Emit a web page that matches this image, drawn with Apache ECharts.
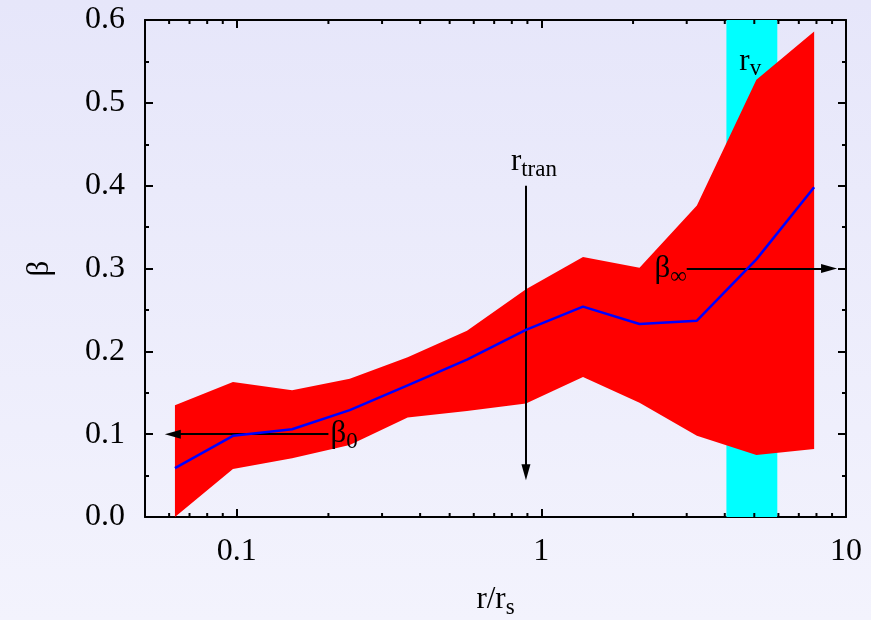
<!DOCTYPE html>
<html>
<head>
<meta charset="utf-8">
<script src="https://cdn.jsdelivr.net/npm/echarts@6/dist/echarts.min.js"></script>
<style>html,body{margin:0;padding:0;}#c{width:871px;height:620px;}</style>
</head>
<body>
<div id="c"></div>
<script>
// ---- data ----
const xVals    = [0.0627, 0.0972, 0.152, 0.235, 0.364, 0.57, 0.89, 1.37, 2.1, 3.24, 5.08, 7.86];
const betaMid  = [0.059, 0.098, 0.106, 0.129, 0.159, 0.190, 0.226, 0.254, 0.233, 0.237, 0.311, 0.398];
const betaHigh = [0.135, 0.163, 0.153, 0.167, 0.193, 0.225, 0.275, 0.314, 0.301, 0.376, 0.528, 0.586];
const betaLow  = [0.000, 0.058, 0.071, 0.087, 0.120, 0.128, 0.137, 0.169, 0.138, 0.098, 0.075, 0.082];
const virialBand = [4.05, 5.95];
const xMinorTicks = [0.06,0.07,0.08,0.09,0.2,0.3,0.4,0.5,0.6,0.7,0.8,0.9,2,3,4,5,6,7,8,9];
const xRange = [0.05, 10];
const yRange = [0, 0.6];
const rTran = 0.89;
const beta0 = 0.1;
const betaInf = 0.3;

const FONT = 'Liberation Serif';
const rich = {
  m: {fontFamily: FONT, fontSize: 31, color: '#000', lineHeight: 40},
  s: {fontFamily: FONT, fontSize: 23, color: '#000', lineHeight: 24, padding: [16, 0, 0, 0]}
};

const chart = echarts.init(document.getElementById('c'), null, {renderer: 'canvas'});

const frameLine = {show: true, onZero: false, lineStyle: {color: '#000', width: 2}};
const tickStyle = {show: true, inside: true, length: 8, lineStyle: {color: '#000', width: 2}};

function fmtX(v) {
  if (Math.abs(v - 0.1) < 1e-9) return '0.1';
  if (Math.abs(v - 1) < 1e-9) return '1';
  if (Math.abs(v - 10) < 1e-9) return '10';
  return '';
}

const option = {
  backgroundColor: {type: 'linear', x: 0, y: 0, x2: 0, y2: 1,
    colorStops: [{offset: 0, color: '#e6e6fa'}, {offset: 1, color: '#f3f3fd'}]},
  animation: false,
  grid: {left: 145, right: 25, top: 20, bottom: 103, containLabel: false, outerBoundsMode: 'none'},
  xAxis: [{
    type: 'log', logBase: 10, min: xRange[0], max: xRange[1], position: 'bottom',
    axisLine: frameLine, axisTick: tickStyle, splitLine: {show: false},
    axisLabel: {formatter: fmtX, fontFamily: FONT, fontSize: 32, color: '#000', margin: 19, showMinLabel: false},
    name: '{m|r/r}{s|s}', nameLocation: 'middle', nameGap: 63,
    nameTextStyle: {rich: rich}
  }, {
    type: 'log', logBase: 10, min: xRange[0], max: xRange[1], position: 'top',
    axisLine: frameLine, axisTick: tickStyle, splitLine: {show: false},
    axisLabel: {show: false}
  }],
  yAxis: [{
    type: 'value', min: yRange[0], max: yRange[1], interval: 0.1, position: 'left',
    axisLine: frameLine, axisTick: tickStyle,
    minorTick: {show: true, splitNumber: 2, length: 4, lineStyle: {color: '#000', width: 2}},
    splitLine: {show: false},
    axisLabel: {formatter: v => v.toFixed(1), fontFamily: FONT, fontSize: 32, color: '#000', margin: 20},
    name: 'β', nameLocation: 'middle', nameRotate: 90, nameGap: 90,
    nameTextStyle: {fontFamily: FONT, fontSize: 31, color: '#000'}
  }, {
    type: 'value', min: yRange[0], max: yRange[1], interval: 0.1, position: 'right',
    axisLine: frameLine, axisTick: tickStyle,
    minorTick: {show: true, splitNumber: 2, length: 4, lineStyle: {color: '#000', width: 2}},
    splitLine: {show: false}, axisLabel: {show: false}
  }],
  series: [
    {
      // virial radius band (cyan)
      type: 'custom', z: 1, silent: true,
      data: [0],
      renderItem: function (params, api) {
        const a = api.coord([virialBand[0], yRange[1]]);
        const b = api.coord([virialBand[1], yRange[0]]);
        return {type: 'rect', shape: {x: a[0], y: a[1], width: b[0] - a[0], height: b[1] - a[1]},
                style: {fill: '#00ffff'}};
      }
    },
    {
      // red uncertainty band
      type: 'custom', z: 2, silent: true,
      data: [0],
      renderItem: function (params, api) {
        const pts = [];
        for (let i = 0; i < xVals.length; i++) pts.push(api.coord([xVals[i], betaHigh[i]]));
        for (let i = xVals.length - 1; i >= 0; i--) pts.push(api.coord([xVals[i], betaLow[i]]));
        return {type: 'polygon', shape: {points: pts}, style: {fill: '#ff0000'}};
      }
    },
    {
      // minor ticks for the log axes (bottom and top)
      type: 'custom', z: 10, silent: true,
      data: xMinorTicks.map(v => [v]),
      renderItem: function (params, api) {
        const v = api.value(0);
        const b = api.coord([v, yRange[0]]);
        const t = api.coord([v, yRange[1]]);
        const st = {stroke: '#000', lineWidth: 2};
        return {type: 'group', children: [
          {type: 'line', shape: {x1: b[0], y1: b[1], x2: b[0], y2: b[1] - 4}, style: st},
          {type: 'line', shape: {x1: t[0], y1: t[1], x2: t[0], y2: t[1] + 4}, style: st}
        ]};
      }
    },
    {
      // mean beta profile
      type: 'line', z: 5, data: xVals.map((x, i) => [x, betaMid[i]]),
      showSymbol: false, symbol: 'none',
      lineStyle: {color: '#0000ff', width: 2.5}
    },
    {
      // annotations
      type: 'line', z: 8, data: [],
      markLine: {
        silent: true, animation: false,
        symbol: ['none', 'triangle'], symbolSize: [9, 16],
        lineStyle: {color: '#000', width: 2, type: 'solid'},
        label: {show: false},
        data: [
          [{coord: [rTran, 0.4]}, {coord: [rTran, 0.054]}],
          [{coord: [0.2, beta0]}, {coord: [0.0617, beta0]}],
          [{coord: [3.0, betaInf]}, {coord: [8.8, betaInf]}]
        ]
      },
      markPoint: {
        silent: true, animation: false, symbol: 'circle', symbolSize: 0,
        itemStyle: {color: 'transparent'},
        data: [
          {coord: [rTran, 0.4], label: {show: true, position: 'top', distance: 4, offset: [8, 0],
            formatter: '{m|r}{s|tran}', rich: rich}},
          {coord: [4.85, 0.55], label: {show: true, position: 'inside',
            formatter: '{m|r}{s|v}', rich: rich}},
          {coord: [0.2, beta0], label: {show: true, position: 'right', distance: 2,
            formatter: '{m|β}{s|0}', rich: rich}},
          {coord: [3.0, betaInf], label: {show: true, position: 'left', distance: 0,
            formatter: '{m|β}{s|∞}', rich: rich}}
        ]
      }
    }
  ]
};
chart.setOption(option);
</script>
</body>
</html>
